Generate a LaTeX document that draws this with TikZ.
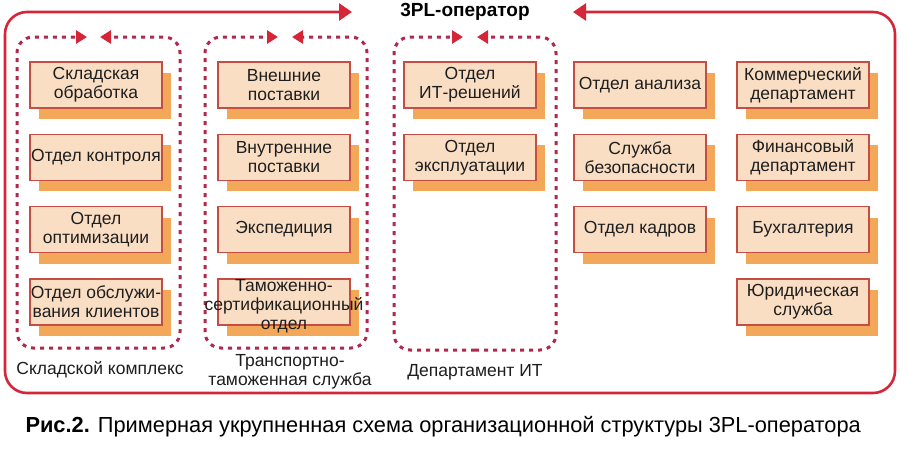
\documentclass[tikz,border=0pt]{standalone}
\usepackage{fontspec}
\setmainfont{Liberation Sans}
\usetikzlibrary{arrows.meta,positioning,shadows}
\definecolor{framered}{RGB}{212,38,56}
\definecolor{grpred}{RGB}{176,40,78}
\definecolor{boxfill}{RGB}{250,222,196}
\definecolor{boxline}{RGB}{196,78,68}
\definecolor{boxshade}{RGB}{242,168,88}
\definecolor{txt}{RGB}{30,30,30}

\begin{document}
\begin{tikzpicture}[x=1pt, y=-1pt,
  font=\fontsize{17.5}{19}\selectfont, text=txt,
  unit/.style={draw=boxline, line width=1.3pt, fill=boxfill, align=center, minimum width=132pt, minimum height=46pt, inner sep=1pt,
    drop shadow={shadow xshift=9pt, shadow yshift=-11pt, fill=boxshade, opacity=1}},
  frame/.style={draw=framered, line width=2.6pt, rounded corners=22pt},
  grp/.style={draw=grpred, line width=3pt, dash pattern=on 4pt off 5pt, rounded corners=16pt},
  garr/.style={-{Triangle[length=11pt, width=13pt, color=framered]}},
  farr/.style={-{Triangle[length=13pt, width=17pt]}},
  lbl/.style={align=center}
]
\fill[white] (0,0) rectangle (908,450);
\useasboundingbox (0,0) rectangle (908,450);

% outer frame
\draw[frame,farr] (450,393) -| (5,12) -- (352,12);
\draw[frame,farr] (450,393) -| (895,12) -- (573,12);
\node[font=\fontsize{19}{22}\bfseries\selectfont, text=black] (ttl) at (465,12) {3PL-оператор};

% dotted groups
\draw[grp,garr] (98,348) -| (17,37) -- (87,37);
\draw[grp,garr] (98,348) -| (180,37) -- (100,37);
\draw[grp,garr] (286,348) -| (205,37) -- (278,37);
\draw[grp,garr] (286,348) -| (367,37) -- (292,37);
\draw[grp,garr] (475,350) -| (394,37) -- (463,37);
\draw[grp,garr] (475,350) -| (556,37) -- (477,37);

% warehouse
\node[unit] (s1) at (96,85) {Складская\\обработка};
\node[unit] (s2) [below=25pt of s1] {Отдел контроля};
\node[unit] (s3) [below=25pt of s2] {Отдел\\оптимизации};
\node[unit] (s4) [below=25pt of s3] {Отдел обслужи-\\вания клиентов};
% transport
\node[unit] (t1) at (284,85) {Внешние\\поставки};
\node[unit] (t2) [below=25pt of t1] {Внутренние\\поставки};
\node[unit] (t3) [below=25pt of t2] {Экспедиция};
\node[unit] (t4) [below=25pt of t3] {};
\node[lbl] (t4txt) at ([yshift=-4pt]t4.center) {Таможенно-\\сертификационный\\отдел};
% IT
\node[unit] (i1) at (470,85) {Отдел\\ИТ-решений};
\node[unit] (i2) [below=25pt of i1] {Отдел\\эксплуатации};
% other
\node[unit] (a1) at (640,85) {Отдел анализа};
\node[unit] (a2) [below=25pt of a1] {Служба\\безопасности};
\node[unit] (a3) [below=25pt of a2] {Отдел кадров};
\node[unit] (k1) at (803,85) {Коммерческий\\департамент};
\node[unit] (k2) [below=25pt of k1] {Финансовый\\департамент};
\node[unit] (k3) [below=25pt of k2] {Бухгалтерия};
\node[unit] (k4) [below=25pt of k3] {Юридическая\\служба};

% group labels
\node (lsk) at (100,370) {Складской комплекс};
\node[lbl] (ltt) at (290,372) {Транспортно-\\таможенная служба};
\node (lit) at (475,372) {Департамент ИТ};

\node[anchor=base west, font=\fontsize{21.8}{26}\selectfont, text=black] (cap) at (22,432)
  {\textbf{Рис.2.} Примерная укрупненная схема организационной структуры 3PL-оператора};
\end{tikzpicture}
\end{document}
